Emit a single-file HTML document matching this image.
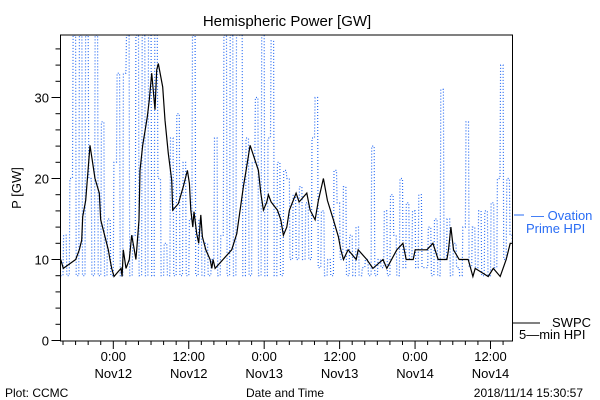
<!DOCTYPE html>
<html><head><meta charset="utf-8"><style>
body{margin:0;background:#fff;}
svg{display:block;font-family:"Liberation Sans",sans-serif;}
</style></head><body>
<svg id="chart" width="600" height="400">
<rect x="0" y="0" width="600" height="400" fill="#fff"/>
<text x="287" y="26" font-size="15" text-anchor="middle">Hemispheric Power [GW]</text>
<text transform="translate(21,188) rotate(-90)" font-size="13" text-anchor="middle">P [GW]</text>
<g id="axes"></g>
<g id="series"></g>
<rect x="60.5" y="35" width="452" height="306" fill="none" stroke="#000" stroke-width="1"/>
<g>
<line x1="514" y1="215" x2="524" y2="215" stroke="#2a6df4"/>
<text x="531" y="220" font-size="13" fill="#2a6df4">— Ovation</text>
<text x="526" y="233" font-size="13" fill="#2a6df4">Prime HPI</text>
</g>
<g>
<line x1="513" y1="323" x2="540" y2="323" stroke="#000"/>
<text x="552" y="327" font-size="13">SWPC</text>
<text x="519" y="339" font-size="13">5—min HPI</text>
</g>
<text x="5" y="397" font-size="12">Plot: CCMC</text>
<text x="285" y="397" font-size="12" text-anchor="middle">Date and Time</text>
<text x="583" y="397" font-size="12" text-anchor="end">2018/11/14 15:30:57</text>
</svg>
<script>
// Data: hours relative to 2018-11-12 00:00 UT
const swpcTimes=[-8.37,-7.96,-5.98,-5.41,-5.03,-4.87,-4.39,-3.71,-2.91,-2.23,-2.0,-1.32,-0.8,-0.53,-0.25,0.11,1.23,1.4,1.59,2.02,2.55,2.93,3.34,3.6,3.72,4.09,4.25,4.68,5.41,5.73,6.11,6.64,6.91,7.16,7.86,8.23,8.75,9.29,9.45,10.35,11.14,11.78,12.1,12.32,12.64,12.84,13.27,13.59,13.91,14.17,14.71,15.39,15.66,15.87,16.19,18.84,19.64,20.17,20.69,21.12,21.76,23.08,23.46,23.87,24.42,24.67,25.1,26.1,26.64,27.06,27.6,28.01,29.08,29.56,30.78,31.31,32.1,32.63,33.42,34.06,35.01,35.81,36.19,36.61,37.35,38.63,38.95,40.33,41.29,42.9,43.51,45.1,46.06,46.59,47.7,48.02,49.88,50.84,51.68,53.06,53.32,53.7,54.11,55.02,56.45,57.2,57.57,59.64,60.44,61.55,62.5,63.14,63.5];
const swpcValues=[10,8.9,10,11.2,12.4,15.3,17.3,24.1,20,18.2,14.9,12.8,11.2,10,8.9,7.9,8.9,7.9,11.2,8.9,10,13,11.2,10,11.2,14.9,21,24.1,27.6,29.7,33,28.5,33.4,34.2,31.3,27.2,23.1,19.8,16.1,16.9,19,21,19.4,16.1,14,15.9,13.2,12,15.5,12.8,11.2,10,8.9,10,8.9,11.2,13.2,16.1,19,21,24.1,21,18.2,16.1,17.1,18,17.1,16.1,14.9,13,14,16.1,18.2,17.1,18.2,16.1,14.9,17.3,20,17.3,14.9,12.8,11.2,10,11.2,10,11.2,10,8.9,10,8.9,11.2,12,10,10,11.2,11.2,12,10,10,11.2,14,11.2,10,10,7.9,8.9,7.9,8.9,7.9,10,12,12];
const ovStart=-8.4, ovStep=0.5;
const ovValues=[8,13,8,20,37.7,8,37.7,8,37.7,20,8,37.7,8,27,8,15,8,22,33,8,33,37.7,8,13,37.7,8,37.7,8,37.7,8,37.7,20,8,12,8,25,8,28,8,22,8,15,37.7,8,15,8,12,8,10,25,8,13,37.7,8,37.7,8,37.7,37.7,8,25,8,22,30,8,37.7,8,25,37,8,22,8,21,20,10,18,10,19,10,17,10,25,30,9,16,8,10,8,21,17,10,19,8,13,8,14,8,9,10,8,24,8,10,9,16,8,18,13,8,20,9,17,10,16,9,18,9,9,14,8,15,8,31,10,15,8,12,9,8,14,27,9,14,9,16,8,16,8,17,9,20,34,10,20,13,12];
const yTicks=[0,10,20,30];
const xTickHours=[0,12,24,36,48,60];
const xTickTimes=["0:00","12:00","0:00","12:00","0:00","12:00"];
const xTickDates=["Nov12","Nov12","Nov13","Nov13","Nov14","Nov14"];

const NS="http://www.w3.org/2000/svg";
const X0=60.5,X1=512.5,YB=340.5,PXU=8.1,YT=35;
const H0=-8.4,H1=63.5;
function xs(h){return X0+(h-H0)/(H1-H0)*(X1-X0);}
function ys(v){return Math.max(YT,YB-v*PXU);}
function mk(tag,attrs,parent){const e=document.createElementNS(NS,tag);for(const k in attrs)e.setAttribute(k,attrs[k]);parent.appendChild(e);return e;}
const axes=document.getElementById('axes'), series=document.getElementById('series');

for(let v=0;v<=36;v+=2){
  const major=yTicks.includes(v);
  const t=mk('line',{x1:X0-(major?9:5),x2:X0,y1:ys(v),y2:ys(v),stroke:'#000'},axes);
  
  
}
yTicks.forEach(v=>{
  const t=mk('text',{x:49,y:ys(v)+5,'font-size':13,'text-anchor':'end'},axes);
  t.textContent=v;
  
  
});
for(let h=-8;h<=63;h+=2){
  const major=xTickHours.includes(h);
  const t=mk('line',{x1:xs(h),x2:xs(h),y1:341,y2:341+(major?8:4),stroke:'#000'},axes);
  
  
}
xTickHours.forEach((h,i)=>{
  const a=mk('text',{x:xs(h),y:361,'font-size':13,'text-anchor':'middle'},axes);
  a.textContent=xTickTimes[i];
  
  
  const b=mk('text',{x:xs(h),y:378,'font-size':13,'text-anchor':'middle'},axes);
  b.textContent=xTickDates[i];
  
  
});

// Ovation dotted series: near-vertical spikes
let d='';
ovValues.forEach((v,i)=>{
  const h=Math.min(ovStart+i*ovStep,H1);
  const x=xs(h).toFixed(1), y=ys(v).toFixed(1);
  if(i===0)d+='M'+x+','+y;
  else d+='L'+(xs(h)-0.6).toFixed(1)+','+ys(ovValues[i-1]).toFixed(1)+'L'+x+','+y;
});
const ov=mk('path',{d:d,fill:'none',stroke:'#2a6df4','stroke-width':1.2,'stroke-dasharray':'1 2'},series);



// SWPC series
let s='';
swpcTimes.forEach((h,i)=>{
  s+=(i?'L':'M')+xs(h).toFixed(1)+','+ys(swpcValues[i]).toFixed(1);
});
const sw=mk('path',{d:s,fill:'none',stroke:'#000','stroke-width':1.2},series);


</script>
</body></html>
